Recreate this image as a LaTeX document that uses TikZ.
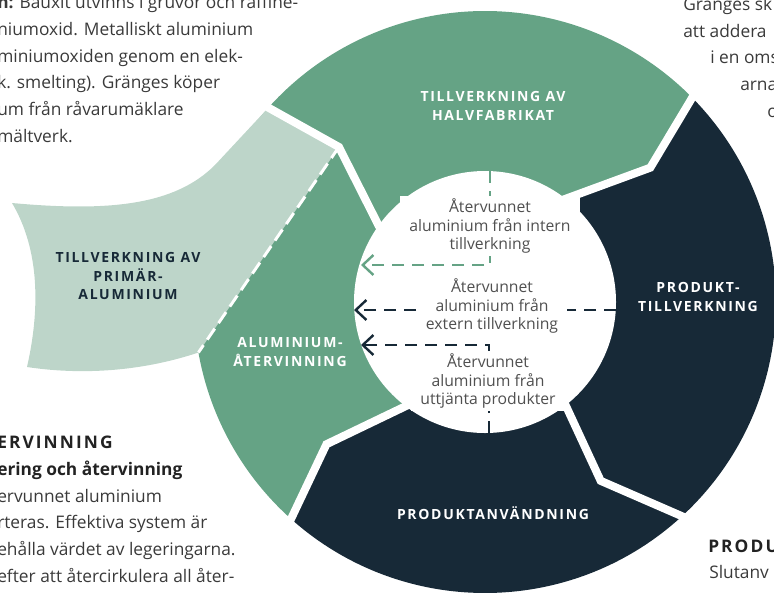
\documentclass[tikz,border=0pt]{standalone}
\usepackage{fontspec}
\setmainfont{Open Sans}
\newfontfamily\capsfont[LetterSpace=12]{Open Sans}
\usetikzlibrary{arrows.meta}

\definecolor{ringgreen}{HTML}{65A385}
\definecolor{palegreen}{HTML}{BDD5C9}
\definecolor{navy}{HTML}{172937}
\definecolor{bodygray}{HTML}{3A3A3A}
\definecolor{headgray}{HTML}{222222}
\definecolor{notegray}{HTML}{505050}

\tikzset{
  gap/.style={white, line width=6pt, line join=miter, line cap=rect},
  seglabel/.style={font=\capsfont\bfseries\fontsize{10.5}{14}\selectfont, text=white, align=center},
  flownote/.style={font=\fontsize{11.8}{14}\selectfont, text=notegray, align=center, fill=white, inner xsep=7pt, inner ysep=2pt},
  flow/.style={line width=1.8pt, dash pattern=on 9pt off 6pt, -{Straight Barb[length=8pt,width=15pt]}},
  bodyline/.style={font=\fontsize{13}{20}\selectfont, text=bodygray, anchor=base west, inner sep=0pt},
}

\begin{document}
\begin{tikzpicture}[x=0.75pt, y=-0.75pt]
	\useasboundingbox (0,0) rectangle (774,593);
	\begin{scope}[shift={(485,302)}]
	% segment boundaries: outer point, kink, inner point
	\foreach \b/\o/\k/\i in {1/-44.6/-39.1/-52, 2/-138.1/-133.3/-144.3, 3/47.4/57.1/52, 4/131.8/138.1/127.3}{
		\coordinate (o\b) at (\o:291);
		\coordinate (k\b) at (\k:213);
		\coordinate (i\b) at (\i:131);}
	\coordinate (dashend) at (170:291);
	\foreach \a/\b/\sa/\ea/\col in {2/1/-138.1/-44.6/ringgreen, 1/3/-44.6/47.4/navy, 3/4/47.4/131.8/navy, 4/2/131.8/221.9/ringgreen}{
		\fill [\col] (0,0) -- (i\a) -- (k\a) -- (o\a) arc [start angle = \sa, end angle = \ea, radius = 291] -- (k\b) -- (i\b) -- cycle;}
	\end{scope}
	% primary aluminium
	\fill [palegreen] (12,203) .. controls (110,212) and (175,205) .. (215,165) -- (o2) -- (k2) -- (dashend)
		.. controls (140,372) and (80,375) .. (27,367) .. controls (40,310) and (40,250) .. (12,203) -- cycle;
	\fill [white] (485,302) circle [radius = 131];
	\foreach \b in {1,...,4}
		\draw [gap] (o\b) -- (k\b) -- (i\b);
	\draw [white, line width = 2.2pt, dash pattern = on 10pt off 5pt] (k2) -- (dashend);

	\node [seglabel] (halvfabrikat) at (493,106) {TILLVERKNING AV\\HALVFABRIKAT};
	\node [seglabel] (produkttillv) at (698,297) {PRODUKT-\\TILLVERKNING};
	\node [seglabel] (anvandning) at (493,513) {PRODUKTANVÄNDNING};
	\node [seglabel] (atervinning) at (290,352) {ALUMINIUM-\\ÅTERVINNING};
	\node [seglabel, text = navy] (primar) at (128,276) {TILLVERKNING AV\\PRIMÄR-\\ALUMINIUM};

	% recycled flows into the recycling step
	\coordinate (internstart) at (490,171);
	\coordinate (internbend) at (490,265);
	\coordinate (interntip) at (361,265);
	\coordinate (externstart) at (616,310);
	\coordinate (externtip) at (354,310);
	\coordinate (uttjantstart) at (489,433);
	\coordinate (uttjantbend) at (489,345);
	\coordinate (uttjanttip) at (361,345);
	\draw [flow, ringgreen] (internstart) -- (internbend) -- (interntip);
	\draw [flow, navy] (externstart) -- (externtip);
	\draw [flow, navy] (uttjantstart) -- (uttjantbend) -- (uttjanttip);
	\node [flownote] (intern) at (490,226) {Återvunnet\\aluminium från intern\\tillverkning};
	\node [flownote] (extern) at (492,306) {Återvunnet\\aluminium från\\extern tillverkning};
	\node [flownote] (uttjant) at (488,381) {Återvunnet\\aluminium från\\uttjänta produkter};

	% surrounding text, cut by the page
	\foreach \y/\txt in {8/{\textbf{n:} Bauxit utvinns i gruvor och raffine-}, 35/{niumoxid. Metalliskt aluminium}, 62/{miniumoxiden genom en elek-}, 88/{k. smelting). Gränges köper}, 115/{um från råvarumäklare}, 142/{mältverk.}}
		\node [bodyline] (tl\y) at (-3,\y) {\txt};
	\foreach \y/\x/\txt in {10/683/{Gränges sk}, 37/683/{att addera}, 63/710/{i en oms}, 90/740/{arna}, 117/767/{o}}
		\node [bodyline] (tr\y) at (\x,\y) {\txt};
	\foreach \y/\txt in {448/{\capsfont\bfseries\color{headgray}ERVINNING}, 475/{\bfseries\color{headgray}ering och återvinning}, 502/{ervunnet aluminium}, 528/{rteras. Effektiva system är}, 555/{ehålla värdet av legeringarna.}, 582/{efter att återcirkulera all åter-}}
		\node [bodyline] (bl\y) at (-3,\y) {\txt};
	\node [bodyline, text = headgray] (produ) at (708,552) {\capsfont\bfseries PRODU};
	\node [bodyline] (slutanv) at (709,578) {Slutanv};
\end{tikzpicture}
\end{document}
